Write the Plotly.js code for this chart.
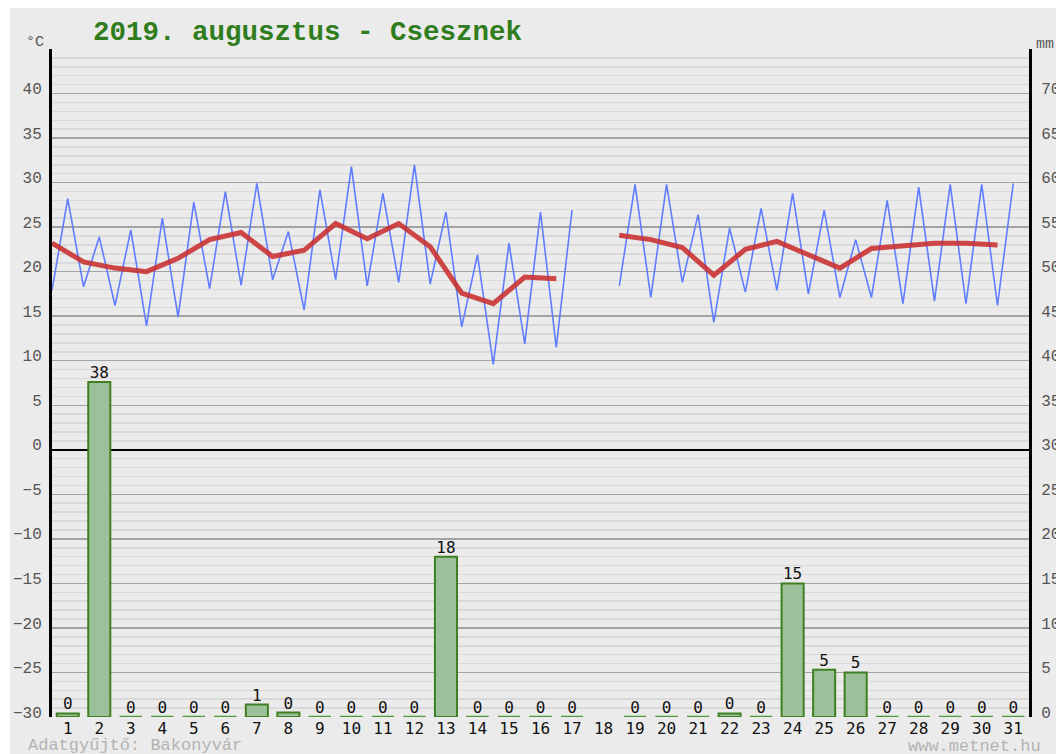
<!DOCTYPE html>
<html>
<head>
<meta charset="utf-8">
<script src="https://cdn.plot.ly/plotly-3.0.1.min.js"></script>
<style>
html,body{margin:0;padding:0;background:#ffffff;width:1056px;height:754px;overflow:hidden;}
#chart{position:absolute;left:10px;top:8px;width:1046px;height:746px;}
</style>
</head>
<body>
<div id="chart"></div>
<script>
// ---- data ----
const days = [1,2,3,4,5,6,7,8,9,10,11,12,13,14,15,16,17,18,19,20,21,22,23,24,25,26,27,28,29,30,31];
const dayLabels = days.map(String);
const tMin  = [17.9,18.3,16.2,13.9,14.9,18.1,18.5,19.1,15.7,19.1,18.4,18.8,18.6,13.8,9.6,11.9,11.5,null,18.4,17.1,18.8,14.3,17.7,17.9,17.5,17.1,17.1,16.4,16.7,16.4,16.2];
const tMax  = [28.2,23.9,24.7,26.0,27.8,29.0,29.9,24.5,29.2,31.8,28.8,32.0,26.7,21.9,23.2,26.7,26.9,null,29.8,29.8,26.4,24.9,27.1,28.8,26.9,23.6,28.0,29.5,29.8,29.8,29.9];
const tMean = [23.2,21.1,20.4,20.0,21.5,23.6,24.4,21.7,22.4,25.4,23.7,25.4,22.8,17.6,16.4,19.4,19.2,null,24.1,23.6,22.7,19.6,22.5,23.4,21.9,20.4,22.6,22.9,23.2,23.2,23.0];
const precip = [0.4,37.6,0,0,0,0,1.4,0.5,0,0,0,0,18.0,0,0,0,0,null,0,0,0,0.4,0,15.0,5.3,5.0,0,0,0,0,0];
const precipLabels = ['0','38','0','0','0','0','1','0','0','0','0','0','18','0','0','0','0','','0','0','0','0','0','15','5','5','0','0','0','0','0'];
const tempTicks = [-30,-25,-20,-15,-10,-5,0,5,10,15,20,25,30,35,40];
const mmTicks = [0,5,10,15,20,25,30,35,40,45,50,55,60,65,70];
const titleText = '2019. augusztus - Csesznek';

// ---- derived series ----
// zig-zag: minimum at the start of the day, maximum at mid-day
const zx = [], zy = [];
days.forEach((d,i)=>{ zx.push(d-0.5, d); zy.push(tMin[i], tMax[i]); });
const meanX = days.map(d=>d-0.5);
// zero-precip days drawn as a flat bar outline
const BW = 0.7;
const zeroX = [], zeroY = [];
days.forEach((d,i)=>{ if(precip[i]===0){ zeroX.push(d-BW/2, d+BW/2, null); zeroY.push(0,0,null);} });

const mono = 'Liberation Mono, Courier New, monospace';
const dmono = 'DejaVu Sans Mono, monospace';
const W = 1046, H = 746, L = 42, R = 27, T = 41, B = 36.5;
const pw = W-L-R, ph = H-T-B;
const px = x => (x-10-L)/pw;          // page x -> paper x
const py = y => 1-((y-8-T)/ph);        // page y -> paper y

const traces = [
  {type:'bar', x:days, y:precip, yaxis:'y2', width:BW,
   marker:{color:'#9cc19a', line:{color:'#3f7f22', width:2}}, hoverinfo:'skip'},
  {type:'scatter', mode:'lines', x:zeroX, y:zeroY, yaxis:'y2',
   line:{color:'#4c9a34', width:2.5}, hoverinfo:'skip', connectgaps:false},
  {type:'scatter', mode:'text', x:days, y:precip, yaxis:'y2', text:precipLabels,
   textposition:'top center', textfont:{family:dmono, size:16, color:'#111'}, hoverinfo:'skip'},
  {type:'scatter', mode:'lines', x:zx, y:zy, line:{color:'#5f7dff', width:1.6}, connectgaps:false, hoverinfo:'skip'},
  {type:'scatter', mode:'lines', x:meanX, y:tMean, line:{color:'rgba(200,45,45,0.88)', width:5}, connectgaps:false, hoverinfo:'skip'}
];

const layout = {
  width:W, height:H,
  margin:{l:L, r:R, t:T, b:B, pad:0},
  paper_bgcolor:'#ebebeb', plot_bgcolor:'#ebebeb',
  showlegend:false,
  title:{text:titleText, font:{family:mono, size:27.5, color:'#2f7d1c', weight:'bold'},
         x:px(93), xanchor:'left', xref:'paper', y:1-(22/H), yanchor:'middle'},
  xaxis:{range:[0.5,31.5], tickvals:days, ticktext:dayLabels, showgrid:false, zeroline:false,
         showline:false, ticks:'', ticklabelstandoff:0,
         tickfont:{family:dmono, size:16, color:'#111'}, fixedrange:true},
  yaxis:{range:[-30,45], tickvals:tempTicks, showgrid:true, gridcolor:'#a3a3a3', gridwidth:1.5,
         minor:{dtick:1, showgrid:true, gridcolor:'#d9d9d9', gridwidth:1.5},
         zeroline:true, zerolinecolor:'#000', zerolinewidth:2,
         showline:true, linecolor:'#000', linewidth:3, ticks:'',
         ticklabelshift:-5, ticklabelstandoff:4,
         tickfont:{family:mono, size:16, color:'#555'}, fixedrange:true},
  yaxis2:{range:[0,75], tickvals:mmTicks, overlaying:'y', side:'right', showgrid:false, zeroline:false,
          showline:true, linecolor:'#000', linewidth:3, ticks:'',
          ticklabelshift:-5, ticklabelstandoff:6,
          tickfont:{family:mono, size:16, color:'#555'}, fixedrange:true},
  annotations:[
    {text:'°C', xref:'paper', yref:'paper', x:px(35), y:py(42), xanchor:'center', yanchor:'middle',
     showarrow:false, font:{family:mono, size:15, color:'#555'}},
    {text:'mm', xref:'paper', yref:'paper', x:px(1034), y:py(44), xanchor:'left', yanchor:'middle',
     showarrow:false, font:{family:mono, size:15, color:'#555'}},
    {text:'Adatgyűjtő: Bakonyvár', xref:'paper', yref:'paper', x:px(26), y:py(746), xanchor:'left', yanchor:'middle',
     showarrow:false, font:{family:mono, size:17, color:'#b3b3b3'}},
    {text:'www.metnet.hu', xref:'paper', yref:'paper', x:px(906), y:py(747), xanchor:'left', yanchor:'middle',
     showarrow:false, font:{family:mono, size:17, color:'#b3b3b3'}}
  ]
};

Plotly.newPlot('chart', traces, layout, {staticPlot:true, displayModeBar:false});
</script>
</body>
</html>
